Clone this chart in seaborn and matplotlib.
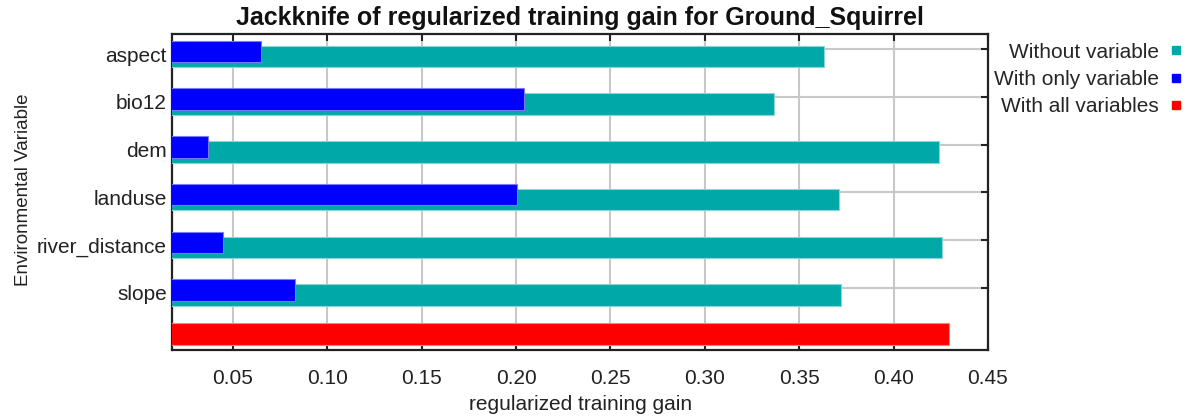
import numpy as np
import pandas as pd
import matplotlib
matplotlib.use("Agg")
import matplotlib.pyplot as plt
from matplotlib.lines import Line2D
import seaborn as sns

# Jackknife results (regularized training gain)
variables = ["aspect", "bio12", "dem", "landuse", "river_distance", "slope"]
without_variable = [0.3631, 0.3366, 0.4240, 0.3713, 0.4258, 0.3721]
with_only_variable = [0.0650, 0.2042, 0.0369, 0.2005, 0.0447, 0.0830]
with_all_variables = [0.4293]
x_ticks = [0.05, 0.10, 0.15, 0.20, 0.25, 0.30, 0.35, 0.40, 0.45]

TEAL = "#00a8a8"
BLUE = "#0000ff"
RED = "#ff0000"
TXT = "#222222"
FS = 15

sns.set_style("white")
plt.rcParams["font.family"] = ["Liberation Sans", "DejaVu Sans"]

fig = plt.figure(figsize=(11.91, 4.17), dpi=100)
ax = fig.add_axes([172.3 / 1191, 1 - 350 / 417, (988 - 172.3) / 1191, (350 - 33.7) / 417])

rows = np.arange(len(variables), dtype=float)
bar_h = 0.454

df_without = pd.DataFrame({"gain": without_variable, "row": rows})
df_only = pd.DataFrame({"gain": with_only_variable, "row": rows - 0.105})
df_all = pd.DataFrame({"gain": with_all_variables, "row": [len(variables) - 0.184]})

sns.barplot(data=df_without, x="gain", y="row", orient="y", native_scale=True,
            color=TEAL, saturation=1, width=bar_h, errorbar=None, ax=ax,
            edgecolor="#8ad6d6", linewidth=0.8, zorder=3)
sns.barplot(data=df_only, x="gain", y="row", orient="y", native_scale=True,
            color=BLUE, saturation=1, width=bar_h, errorbar=None, ax=ax,
            edgecolor="#7a7aff", linewidth=0.8, zorder=4)
sns.barplot(data=df_all, x="gain", y="row", orient="y", native_scale=True,
            color=RED, saturation=1, width=0.46, errorbar=None, ax=ax,
            edgecolor="#ff8080", linewidth=0.8, zorder=3)

ax.set_xlim(0.0179, 0.4496)
ax.set_ylim(6.15, -0.477)

# x grid and ticks
ax.set_xticks(x_ticks)
ax.set_xticklabels([f"{v:.2f}" for v in x_ticks], fontsize=FS, color=TXT)
ax.xaxis.grid(True, color="#c8c8c8", linewidth=1.5, zorder=0)

# y labels at the group centre, grid lines slightly above
ax.set_yticks(rows - 0.05)
ax.set_yticklabels(variables, fontsize=FS, color=TXT)
ax.set_yticks(rows - 0.15, minor=True)
ax.yaxis.grid(True, which="minor", color="#c8c8c8", linewidth=1.5, zorder=0)
ax.yaxis.grid(False, which="major")
ax.tick_params(axis="y", which="major", length=0, pad=4)
ax.tick_params(axis="y", which="minor", left=False, right=True, direction="in",
               length=5, width=1.5, color=TXT)
ax.tick_params(axis="x", which="major", top=True, bottom=True, direction="in",
               length=5, width=1.5, color=TXT, pad=14)
ax.set_axisbelow(True)

for s in ax.spines.values():
    s.set_visible(True)
    s.set_color(TXT)
    s.set_linewidth(1.6)

ax.set_xlabel("regularized training gain", fontsize=FS, color=TXT, labelpad=5)
ax.set_ylabel("Environmental Variable", fontsize=13.5, color=TXT)
ax.yaxis.set_label_coords(-0.1715, 0.506)
ax.set_title("Jackknife of regularized training gain for Ground_Squirrel",
             fontsize=18, fontweight="bold", color="#111111", pad=6)

handles = [
    Line2D([], [], linestyle="none", marker="s", markersize=5.5, color=TEAL),
    Line2D([], [], linestyle="none", marker="s", markersize=5.5, color=BLUE),
    Line2D([], [], linestyle="none", marker="s", markersize=5.5, color=RED),
]
labels = ["Without variable", "With only variable", "With all variables"]
fig.legend(handles, labels, loc="upper right", bbox_to_anchor=(1.0017, 0.918),
           markerfirst=False, frameon=False, fontsize=FS, handlelength=0.8,
           handletextpad=0.45, labelspacing=0.4, borderaxespad=0)

fig.savefig("out.png", dpi=100)
